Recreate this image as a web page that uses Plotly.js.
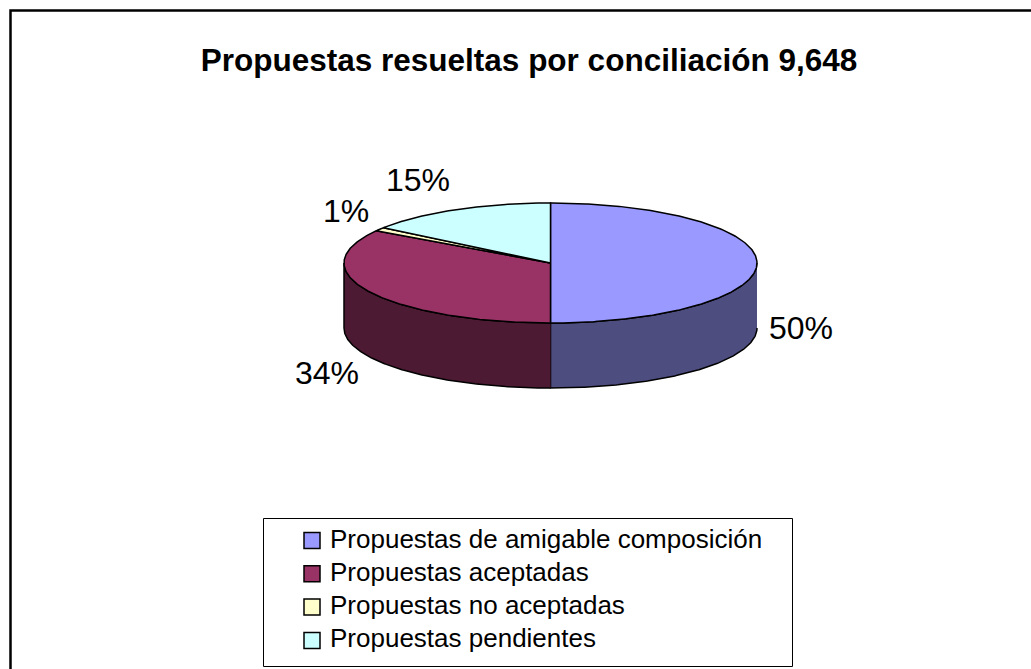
<!DOCTYPE html>
<html>
<head>
<meta charset="utf-8">
<script src="https://cdn.plot.ly/plotly-3.0.1.min.js"></script>
<style>html,body{margin:0;padding:0;background:#fff;}#chart{width:1031px;height:669px;}</style>
</head>
<body>
<div id="chart"></div>
<script>
// ---- data ----
const chartTitle = 'Propuestas resueltas por conciliación 9,648';
const categories = ['Propuestas de amigable composición', 'Propuestas aceptadas', 'Propuestas no aceptadas', 'Propuestas pendientes'];
const values = [50, 34, 1, 15];
const topColors = ['#9999FF', '#993366', '#FFFFCC', '#CCFFFF'];
const sideColors = ['#4D4D80', '#4D1A33', '#808066', '#668080'];

// ---- geometry (pixel-space axes) ----
const W = 1031, H = 669;
const cx = 550.5, cy = 263, rx = 206.5, ry = 60, depth = 65;
const FONT = 'Liberation Sans, Arial, sans-serif';
// legend box layout
const LG = {x0: 263.5, x1: 792.5, y0: 518.5, y1: 666.5, swX: 304, swSize: 16, textX: 328, row0: 540.5, rowGap: 33.3};

function pt(t, dz) { return [cx + rx * Math.sin(t), cy - ry * Math.cos(t) + dz]; }
function arc(a, b, dz) {
  const n = Math.max(2, Math.ceil(Math.abs(b - a) / (Math.PI / 360)));
  const xs = [], ys = [];
  for (let i = 0; i <= n; i++) { const p = pt(a + (b - a) * i / n, dz); xs.push(p[0]); ys.push(p[1]); }
  return [xs, ys];
}

const total = values.reduce((s, v) => s + v, 0);
const starts = [], ends = [];
let acc = 0;
values.forEach(v => { starts.push(acc / total * 2 * Math.PI); acc += v; ends.push(acc / total * 2 * Math.PI); });

const traces = [];
// front walls
values.forEach((v, i) => {
  const a = Math.max(starts[i], Math.PI / 2), b = Math.min(ends[i], 3 * Math.PI / 2);
  if (b <= a) return;
  const top = arc(a, b, 0), bot = arc(b, a, depth);
  traces.push({
    type: 'scatter', mode: 'lines', x: top[0].concat(bot[0]), y: top[1].concat(bot[1]),
    fill: 'toself', fillcolor: sideColors[i], line: {color: '#000', width: 1.5},
    showlegend: false, hoverinfo: 'skip'
  });
});
// top faces
values.forEach((v, i) => {
  const r = arc(starts[i], ends[i], 0);
  traces.push({
    type: 'scatter', mode: 'lines', x: [cx].concat(r[0], [cx]), y: [cy].concat(r[1], [cy]),
    fill: 'toself', fillcolor: topColors[i], line: {color: '#000', width: 1.5},
    name: categories[i], showlegend: false, hoverinfo: 'name'
  });
});

// percent labels
const annotations = values.map((v, i) => {
  const m = (starts[i] + ends[i]) / 2;
  const s = Math.sin(m), c = Math.cos(m);
  const x = cx + s * (rx + 10);
  const y = cy - c * (ry + 33) + (c <= 0.0001 ? depth : 0);
  return {
    x: x, y: y, xref: 'x', yref: 'y', text: Math.round(v / total * 100) + '%',
    showarrow: false, xanchor: s > 0.0001 ? 'left' : 'right', yanchor: 'middle',
    font: {family: FONT, size: 32, color: '#000'}
  };
});

// legend (box, swatches, texts) built from categories/colors
const shapes = [
  {type: 'rect', xref: 'paper', yref: 'paper', x0: 10.5 / W, x1: 1.05, y0: -0.05, y1: 1 - 10.5 / H,
   line: {color: '#000', width: 2.5}, fillcolor: 'rgba(0,0,0,0)', layer: 'below'},
  {type: 'rect', xref: 'x', yref: 'y', x0: LG.x0, x1: LG.x1, y0: LG.y0, y1: LG.y1,
   line: {color: '#000', width: 1}, fillcolor: '#fff', layer: 'above'}
];
categories.forEach((c, i) => {
  const yc = LG.row0 + i * LG.rowGap;
  shapes.push({type: 'rect', xref: 'x', yref: 'y', x0: LG.swX, x1: LG.swX + LG.swSize,
               y0: yc - LG.swSize / 2, y1: yc + LG.swSize / 2,
               line: {color: '#000', width: 1.5}, fillcolor: topColors[i], layer: 'above'});
  annotations.push({x: LG.textX, y: yc - 2, xref: 'x', yref: 'y', text: c, showarrow: false,
                    xanchor: 'left', yanchor: 'middle', font: {family: FONT, size: 26, color: '#000'}});
});

const layout = {
  width: W, height: H,
  margin: {l: 0, r: 0, t: 0, b: 0},
  paper_bgcolor: '#fff', plot_bgcolor: '#fff',
  title: {text: '<b>' + chartTitle + '</b>', x: 529 / W, xanchor: 'center', y: 1 - 60 / H, yanchor: 'middle',
          font: {family: FONT, size: 31.5, color: '#000'}},
  xaxis: {range: [0, W], visible: false, fixedrange: true},
  yaxis: {range: [H, 0], visible: false, fixedrange: true},
  showlegend: false,
  annotations: annotations,
  shapes: shapes,
  hovermode: 'closest'
};

Plotly.newPlot('chart', traces, layout, {displayModeBar: false, staticPlot: true});
</script>
</body>
</html>
